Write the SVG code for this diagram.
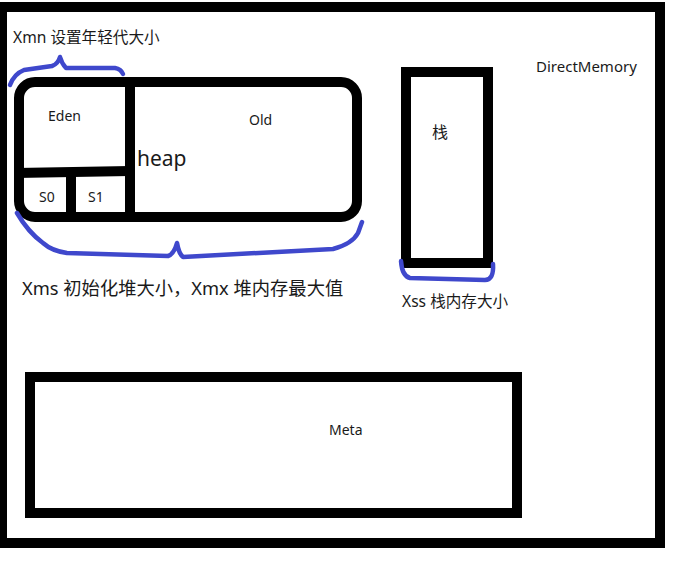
<svg xmlns="http://www.w3.org/2000/svg" width="696" height="564" viewBox="0 0 696 564">
<style>
.box{fill:none;stroke:#000;stroke-width:10}
.div{stroke:#000;stroke-width:10}
.brace{fill:none;stroke:#3f48cc;stroke-width:4.5;stroke-linecap:round;stroke-linejoin:round}
text{font-family:"Noto Sans","Noto Sans CJK SC",sans-serif;fill:#1a1a1a}
.s14{font-size:14px}
.s15{font-size:15px}
.s155{font-size:15.6px}
</style>
<rect width="696" height="564" fill="#fff"/>
<g id="frame">
<rect class="box" x="2" y="7" width="658" height="536"/>
<text class="s15" x="536" y="72">DirectMemory</text>
</g>
<g id="heap">
<rect class="box" x="19" y="82" width="338" height="135" rx="16"/>
<text x="137" y="166" style="font-size:21px">heap</text>
</g>
<g id="eden">
<line class="div" x1="130" y1="82" x2="130" y2="217"/>
<line class="div" x1="16" y1="173" x2="130" y2="171"/>
<text class="s14" x="48" y="121">Eden</text>
</g>
<g id="old">
<text class="s14" x="249" y="125">Old</text>
</g>
<g id="s0">
<line class="div" x1="71" y1="172" x2="71" y2="217"/>
<text class="s14" x="39" y="202">S0</text>
</g>
<g id="s1">
<text class="s14" x="88" y="202">S1</text>
</g>
<g id="stack">
<rect class="box" x="406" y="72" width="82" height="191"/>
<text x="432" y="138" style="font-size:16px">栈</text>
</g>
<g id="meta">
<rect class="box" x="30" y="377" width="487" height="136"/>
<text class="s14" x="329" y="435">Meta</text>
</g>
<g id="connectors">
<path class="brace" d="M10,85 Q14,74 24,70 L52,66 Q58,64 60,57 Q62,64 66,68 L115,68 Q121,69 123,74"/>
<path class="brace" d="M17,213 Q28,232 43,243 Q52,251 67,253 L168,256 Q174,254 177,243 Q179,254 183,257 L333,249 Q352,244 358,233 L362,222"/>
<path class="brace" d="M401,261 Q402,276 410,278 L485,280 Q494,280 493,264"/>
</g>
<g id="labels">
<text class="s155" x="13" y="43">Xmn 设置年轻代大小</text>
<text x="22" y="295" style="font-size:18.3px">Xms 初始化堆大小，Xmx 堆内存最大值</text>
<text class="s155" x="402" y="307">Xss 栈内存大小</text>
</g>
</svg>
